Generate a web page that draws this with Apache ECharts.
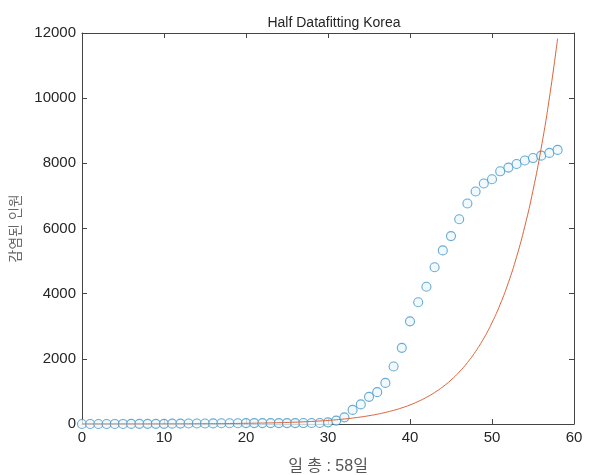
<!DOCTYPE html>
<html lang="ko">
<head>
    <meta charset="UTF-8">
    <title>Half Datafitting Korea</title>
    <script src="https://cdn.jsdelivr.net/npm/echarts@6/dist/echarts.min.js"></script>
    <style>
        html, body { margin: 0; padding: 0; background: #fff; }
        #main { width: 589px; height: 475px; }
    </style>
</head>
<body>
<div id="main"></div>
<script>
    // 일자 (0 ~ 58)
    var days = [0, 1, 2, 3, 4, 5, 6, 7, 8, 9, 10, 11, 12, 13, 14, 15, 16, 17, 18, 19,
        20, 21, 22, 23, 24, 25, 26, 27, 28, 29, 30, 31, 32, 33, 34, 35, 36, 37, 38, 39,
        40, 41, 42, 43, 44, 45, 46, 47, 48, 49, 50, 51, 52, 53, 54, 55, 56, 57, 58];
    // 누적 감염자 (원 마커)
    var cases = [1, 1, 1, 1, 2, 2, 3, 4, 4, 4, 4, 11, 12, 15, 15, 16, 18, 23, 24, 24,
        27, 27, 28, 28, 28, 28, 28, 29, 30, 31, 51, 104, 204, 433, 602, 833, 977, 1261, 1766, 2337,
        3150, 3736, 4212, 4812, 5328, 5766, 6284, 6767, 7134, 7382, 7513, 7755, 7869, 7979, 8086, 8162, 8236, 8320, 8413];
    // 피팅 곡선
    var fitted = [1, 1, 1, 1, 1, 2, 2, 2, 3, 3, 4, 5, 5, 6, 8, 9, 10, 12, 15, 17,
        21, 24, 29, 34, 40, 48, 56, 67, 79, 93, 110, 130, 154, 182, 215, 254, 300, 355, 419, 495,
        585, 692, 817, 966, 1141, 1349, 1594, 1884, 2226, 2631, 3109, 3674, 4342, 5132, 6064, 7167, 8470, 10009, 11830];

    var xTicks = [0, 10, 20, 30, 40, 50, 60];
    var yTicks = [0, 2000, 4000, 6000, 8000, 10000, 12000];

    var font = "'Liberation Sans', Arial, 'Noto Sans CJK KR', sans-serif";
    var axisColor = '#262626';

    var scatterData = days.map(function (d, i) { return [d, cases[i]]; });
    var fitData = days.map(function (d, i) { return [d, fitted[i]]; });

    var myChart = echarts.init(document.getElementById('main'));

    function xAx(pos, showLabel) {
        return {
            type: 'value',
            position: pos,
            min: xTicks[0],
            max: xTicks[xTicks.length - 1],
            interval: 10,
            axisLine: { show: true, onZero: false, lineStyle: { color: '#444', width: 1 } },
            axisTick: { show: true, inside: true, length: 5, lineStyle: { color: '#444' } },
            axisLabel: { show: showLabel, color: axisColor, fontSize: 15, fontFamily: font, margin: 6 },
            splitLine: { show: false }
        };
    }
    function yAx(pos, showLabel) {
        return {
            type: 'value',
            position: pos,
            min: yTicks[0],
            max: yTicks[yTicks.length - 1],
            interval: 2000,
            axisLine: { show: true, onZero: false, lineStyle: { color: '#444', width: 1 } },
            axisTick: { show: true, inside: true, length: 5, lineStyle: { color: '#444' } },
            axisLabel: {
                show: showLabel, color: axisColor, fontSize: 15, fontFamily: font, margin: 6,
                formatter: function (v) { return String(v); }
            },
            splitLine: { show: false }
        };
    }

    var xBottom = xAx('bottom', true);
    xBottom.name = '일 총 : 58일';
    xBottom.nameLocation = 'middle';
    xBottom.nameGap = 35;
    xBottom.nameTextStyle = { color: '#555', fontSize: 16, fontFamily: font };

    var yLeft = yAx('left', true);
    yLeft.name = '감염된 인원';
    yLeft.nameLocation = 'middle';
    yLeft.nameGap = 53;
    yLeft.nameTextStyle = { color: '#666', fontSize: 14, fontFamily: font };

    var option = {
        animation: false,
        backgroundColor: '#fff',
        title: {
            text: 'Half Datafitting Korea',
            left: 329,
            top: 11,
            textAlign: 'center',
            textStyle: { color: axisColor, fontSize: 14, fontWeight: 'normal', fontFamily: font }
        },
        grid: { left: 82, right: 15, top: 33, bottom: 51, outerBoundsMode: 'none' },
        xAxis: [xBottom, xAx('top', false)],
        yAxis: [yLeft, yAx('right', false)],
        series: [
            {
                type: 'scatter',
                data: scatterData,
                symbol: 'circle',
                symbolSize: 9,
                itemStyle: { color: '#eef8fc', borderColor: '#4596c6', borderWidth: 1.1 },
                emphasis: { disabled: true },
                z: 2
            },
            {
                type: 'line',
                data: fitData,
                smooth: true,
                showSymbol: false,
                lineStyle: { color: '#d9643a', width: 1 },
                emphasis: { disabled: true },
                z: 3
            }
        ]
    };

    myChart.setOption(option);
</script>
</body>
</html>
